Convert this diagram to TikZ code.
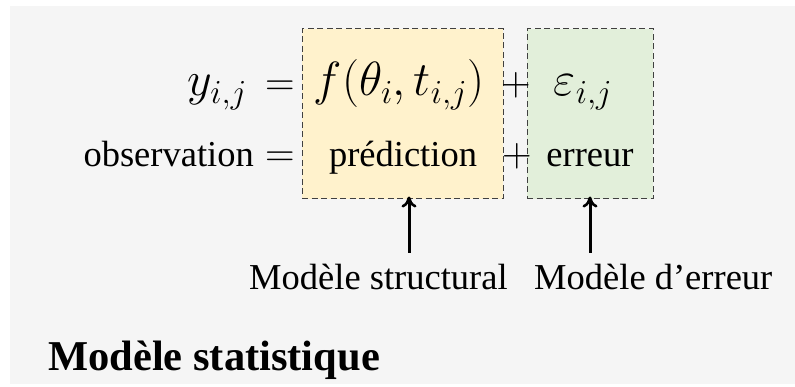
\RequirePackage{fix-cm}
\documentclass[tikz,border=0pt]{standalone}
\usepackage{fontspec}
\setmainfont{Liberation Serif}
\usetikzlibrary{arrows.meta}
\usetikzlibrary{positioning}
\definecolor{bggray}{RGB}{245,245,245}
\definecolor{predyellow}{RGB}{255,242,204}
\definecolor{errgreen}{RGB}{226,239,218}
\definecolor{edgegray}{RGB}{64,64,64}

\begin{document}
\begin{tikzpicture}[x=1pt,y=-1pt,
	modelbox/.style={draw=edgegray, line width=1pt, dash pattern=on 6pt off 3.5pt, inner sep=0pt},
	mathbig/.style={font=\fontsize{48}{52}\selectfont, inner sep=0pt},
	mathtxt/.style={font=\fontsize{41}{44}\selectfont, inner sep=0pt},
	plaintxt/.style={font=\fontsize{36.5}{40}\selectfont, inner sep=0pt},
	uparrow/.style={-{To[length=11pt, width=15pt, line width=2.6pt]}, line width=3pt}]
					\useasboundingbox (0,0) rectangle (795,387);
					\fill [color=bggray] (10,6) rectangle (795,384);
					% boites des deux modeles
					\node [modelbox, fill=predyellow, minimum width=201pt, minimum height=170pt] (predbox) at (402.5,114) {};
					\node [modelbox, fill=errgreen, minimum width=126pt, minimum height=170pt] (errbox) at (590,114) {};
					% ligne des formules
					\node [mathbig, anchor=base east] (yij) at (247,96) {$y_{i,j}$};
					\node [mathtxt, anchor=base] (eqa) at (280,96) {$=$};
					\node [mathbig, anchor=base] (fpred) at (399,96) {$f\bigl(\theta_i,t_{i,j}\bigr)$};
					\node [mathtxt, anchor=base] (plusa) at (516,96) {$+$};
					\node [mathbig, anchor=base] (eps) at (583,96) {$\varepsilon_{i,j}$};
					% ligne des mots
					\node [plaintxt, anchor=base east] (obs) at (254,167) {observation};
					\node [mathtxt, anchor=base] (eqb) at (280,167) {$=$};
					\node [plaintxt, anchor=base] (predtxt) at (403,167) {prédiction};
					\node [mathtxt, anchor=base] (plusb) at (517,167) {$+$};
					\node [plaintxt, anchor=base] (errtxt) at (590,167) {erreur};
					% fleches et legendes
					\node [plaintxt, anchor=base west] (structlbl) at (249,290) {Modèle structural};
					\node [plaintxt, anchor=base west] (errlbl) at (534,290) {Modèle d’erreur};
					\coordinate (sa) at (409,253);
					\coordinate (ea) at (590,253);
					\draw [uparrow] (sa) -- ([yshift=3pt]sa |- predbox.south);
					\draw [uparrow] (ea) -- ([yshift=3pt]ea |- errbox.south);
					\node [plaintxt, font=\fontsize{42.5}{46}\selectfont\bfseries, anchor=base west] (title) at (48,370) {Modèle statistique};
				\end{tikzpicture}
\end{document}
